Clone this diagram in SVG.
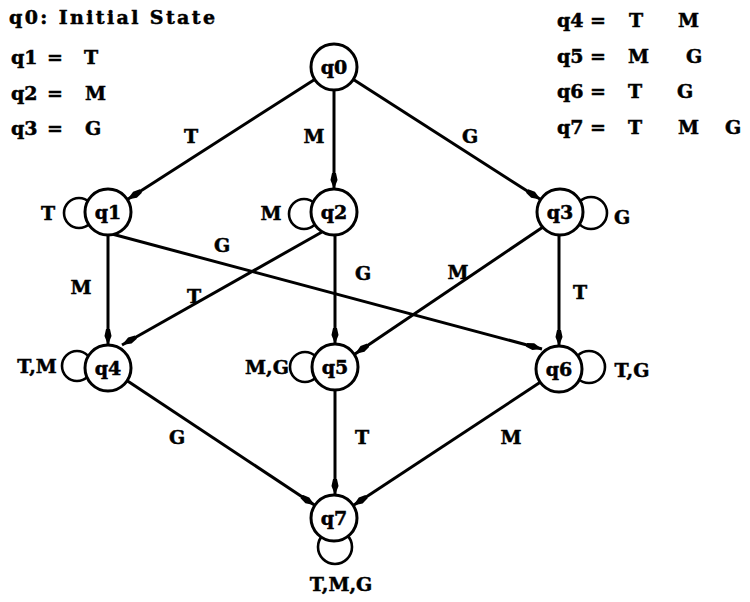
<svg xmlns="http://www.w3.org/2000/svg" width="750" height="602" viewBox="0 0 750 602">
<style>
text{font-family:"DejaVu Serif","Liberation Serif",serif;font-weight:bold;font-size:19px;fill:#000;stroke:#000;stroke-width:0.5}
.c{text-anchor:middle}
.node{fill:#fff;stroke:#000;stroke-width:3}
.loop{fill:none;stroke:#000;stroke-width:2.6}
.edge{fill:none;stroke:#000;stroke-width:3;marker-end:url(#ah)}
</style>
<defs>
<marker id="ah" viewBox="-16 -4 17 8" refX="0" refY="0" markerWidth="17" markerHeight="8" markerUnits="userSpaceOnUse" orient="auto">
<path d="M0,0 L-9,-3.5 L-16,-2 L-16,2 L-9,3.5 Z" fill="#000"/>
</marker>
</defs>
<rect width="750" height="602" fill="#fff"/>
<g id="legend">
<text x="9" y="24" textLength="206" lengthAdjust="spacing">q0: Initial State</text>
<text x="11" y="64">q1</text><text x="47" y="64">=</text><text x="84" y="64">T</text>
<text x="11" y="100">q2</text><text x="47" y="100">=</text><text x="85" y="100">M</text>
<text x="11" y="135">q3</text><text x="47" y="135">=</text><text x="85" y="135">G</text>
<text x="557" y="27">q4</text><text x="590" y="27">=</text><text x="629" y="27">T</text><text x="678" y="27">M</text>
<text x="557" y="63">q5</text><text x="590" y="63">=</text><text x="628" y="63">M</text><text x="686" y="63">G</text>
<text x="557" y="98">q6</text><text x="590" y="98">=</text><text x="628" y="98">T</text><text x="677" y="98">G</text>
<text x="557" y="134">q7</text><text x="590" y="134">=</text><text x="628" y="134">T</text><text x="678" y="134">M</text><text x="725" y="134">G</text>
</g>
<g id="connectors">
<path class="edge" d="M314.6,79.4 L127.4,199.6"/>
<path class="edge" d="M334,90 L334,189"/>
<path class="edge" d="M353.4,79.4 L540.6,199.6"/>
<path class="edge" d="M108,235 L108,345"/>
<path class="edge" d="M112,234 L542,349"/>
<path class="edge" d="M322,232 L122,345"/>
<path class="edge" d="M335,235 L335,344"/>
<path class="edge" d="M543,227 L355,354"/>
<path class="edge" d="M559,235 L559,346"/>
<path class="edge" d="M127.2,380.7 L314.8,505.3"/>
<path class="edge" d="M335,391 L335,495"/>
<path class="edge" d="M539.8,382.6 L353.2,505.4"/>
<text class="c" x="191" y="143">T</text>
<text class="c" x="314" y="143">M</text>
<text class="c" x="470" y="143">G</text>
<text class="c" x="81" y="294">M</text>
<text class="c" x="222" y="252">G</text>
<text class="c" x="194" y="303">T</text>
<text class="c" x="363" y="280">G</text>
<text class="c" x="458" y="279">M</text>
<text class="c" x="580" y="299">T</text>
<text class="c" x="177" y="444">G</text>
<text class="c" x="362" y="444">T</text>
<text class="c" x="511" y="444">M</text>
</g>
<g id="q0"><circle class="node" cx="334" cy="67" r="23"/><text class="c" x="334" y="74">q0</text></g>
<g id="q1"><circle class="loop" cx="79" cy="213" r="15"/><circle class="node" cx="108" cy="212" r="23"/><text class="c" x="108" y="219">q1</text><text class="c" x="48" y="220">T</text></g>
<g id="q2"><circle class="loop" cx="304" cy="214" r="15"/><circle class="node" cx="334" cy="212" r="23"/><text class="c" x="334" y="219">q2</text><text class="c" x="271" y="220">M</text></g>
<g id="q3"><circle class="loop" cx="591" cy="213" r="16"/><circle class="node" cx="560" cy="212" r="23"/><text class="c" x="560" y="219">q3</text><text class="c" x="622" y="224">G</text></g>
<g id="q4"><circle class="loop" cx="77" cy="366" r="15"/><circle class="node" cx="108" cy="368" r="23"/><text class="c" x="108" y="375">q4</text><text class="c" x="37" y="373">T,M</text></g>
<g id="q5"><circle class="loop" cx="305" cy="367" r="15"/><circle class="node" cx="335" cy="367" r="23"/><text class="c" x="335" y="374">q5</text><text class="c" x="267" y="374">M,G</text></g>
<g id="q6"><circle class="loop" cx="589" cy="367" r="16"/><circle class="node" cx="559" cy="369" r="23"/><text class="c" x="559" y="376">q6</text><text class="c" x="632" y="377">T,G</text></g>
<g id="q7"><circle class="loop" cx="335" cy="547" r="17"/><circle class="node" cx="334" cy="518" r="23"/><text class="c" x="334" y="525">q7</text><text class="c" x="341" y="591">T,M,G</text></g>
</svg>
